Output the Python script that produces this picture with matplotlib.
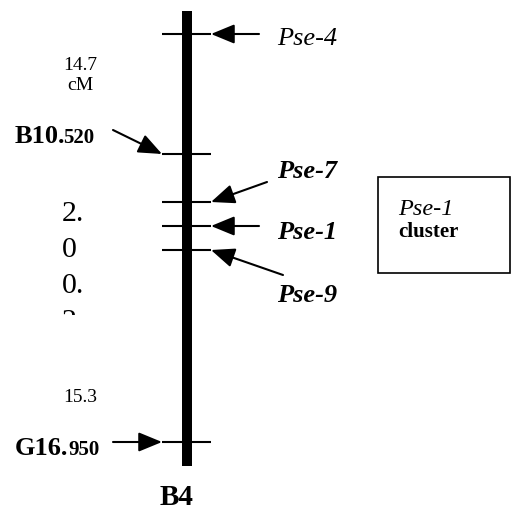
import matplotlib.pyplot as plt
from matplotlib.patches import Rectangle
from matplotlib.transforms import Bbox, TransformedBbox

plt.rcParams['font.family'] = ['Liberation Serif', 'DejaVu Serif']

# linkage group B4, drawn in a 515 x 510 pixel frame (y grows downward)
bar_x = 187
bar_top = 12
bar_bottom = 467

# loci on the right side of the chromosome
right_names = ['Pse-4', 'Pse-7', 'Pse-1', 'Pse-9']
right_y = [35, 203, 227, 251]
right_tail = [(259, 35), (267, 183), (259, 227), (283, 276)]
right_label_y = [45, 178, 239, 302]
right_bold = [False, True, True, True]

# RAPD markers on the left side
left_names = [('B10.', '520'), ('G16.', '950')]
left_y = [155, 443]
left_tail = [(113, 131), (113, 443)]
left_label_y = [143, 455]
left_split_x = [63, 68]

# distances (cM) written along the left
dist_labels = ['14.7\ncM', '15.3']
dist_pos = [(80, 90), (80, 402)]

fig = plt.figure(figsize=(5.15, 5.10), dpi=100)
ax = fig.add_axes([0, 0, 1, 1])
ax.set_xlim(0, 515)
ax.set_ylim(510, 0)
ax.axis('off')

# chromosome bar
ax.add_patch(Rectangle((bar_x - 5, bar_top), 10, bar_bottom - bar_top,
                       facecolor='black', edgecolor='none'))

# tick marks
for y in right_y + left_y:
    ax.plot([162, 211], [y, y], color='black', lw=1.5, solid_capstyle='butt')

arrow = dict(arrowstyle='-|>,head_length=0.8,head_width=0.33', mutation_scale=18,
             color='black', lw=1.5, shrinkA=0, shrinkB=0)

for name, y, tail, ly, bold in zip(right_names, right_y, right_tail,
                                   right_label_y, right_bold):
    ax.annotate('', xy=(211, y), xytext=tail, arrowprops=arrow)
    ax.text(277, ly, name, fontsize=19, style='italic',
            fontweight='bold' if bold else 'normal', va='baseline', ha='left')

for (a, b), y, tail, ly, sx in zip(left_names, left_y, left_tail,
                                   left_label_y, left_split_x):
    ax.annotate('', xy=(162, y), xytext=tail, arrowprops=arrow)
    ax.text(15, ly, a, fontsize=19, fontweight='bold', va='baseline', ha='left')
    ax.text(sx, ly, b, fontsize=15, fontweight='bold', va='baseline', ha='left')

for txt, (x, y) in zip(dist_labels, dist_pos):
    ax.text(x, y, txt, fontsize=14, ha='center', va='baseline',
            linespacing=1.2)

# 2.0 cM written down the side, cut off at the bottom
vt = ax.text(62, 329, '2.\n0\n0.\n2', fontsize=21.5, ha='left', va='baseline',
             linespacing=1.5)
vt.set_clip_box(TransformedBbox(Bbox([[40, 180], [120, 316]]), ax.transData))
vt.set_clip_on(True)

# cluster box
ax.add_patch(Rectangle((378, 178), 132, 96, facecolor='none',
                       edgecolor='black', lw=1.2))
ax.text(398, 215, 'Pse-1', fontsize=17.5, style='italic', va='baseline')
ax.text(398, 237, 'cluster', fontsize=15, fontweight='bold', va='baseline')

ax.text(160, 505, 'B4', fontsize=21, fontweight='bold', va='baseline')

fig.savefig('out.png', dpi=100)
